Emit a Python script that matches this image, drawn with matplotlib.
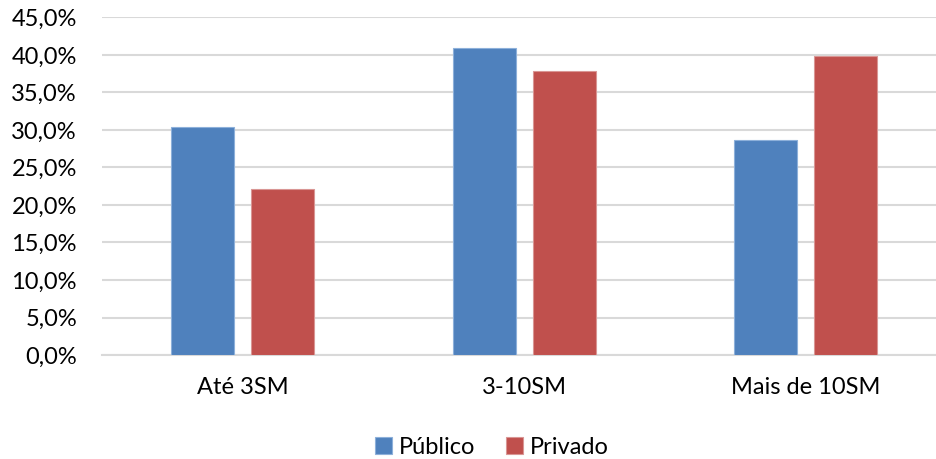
import numpy as np
import matplotlib.pyplot as plt
from matplotlib.ticker import FuncFormatter

# faixas de renda e percentuais por rede
categorias = ["Até 3SM", "3-10SM", "Mais de 10SM"]
publico = [30.4, 40.9, 28.6]
privado = [22.1, 37.9, 39.8]

plt.rcParams['font.family'] = ['Lato', 'DejaVu Sans']

fig = plt.figure(figsize=(9.36, 4.59), dpi=100)
ax = fig.add_axes([102 / 936, 1 - 355 / 459, 1 - 102 / 936, 337.5 / 459])

x = np.arange(len(categorias))
largura = 0.224
desloc = 0.142

ax.bar(x - desloc, publico, largura, color="#4F81BD", edgecolor="#8DB0DA",
       linewidth=0.8, label="Público", zorder=3)
ax.bar(x + desloc, privado, largura, color="#C0504D", edgecolor="#D99694",
       linewidth=0.8, label="Privado", zorder=3)

ax.set_xlim(-0.5, 2.464)
ax.set_ylim(0, 45)
ax.set_yticks(np.arange(0, 46, 5))
ax.yaxis.set_major_formatter(FuncFormatter(lambda v, p: f"{v:.1f}%".replace(".", ",")))
ax.set_xticks(x)
ax.set_xticklabels(categorias)

ax.grid(axis="y", color="#D9D9D9", linewidth=1.5, zorder=0)
for lado in ["top", "right", "left"]:
    ax.spines[lado].set_visible(False)
ax.spines["bottom"].set_color("#D9D9D9")
ax.spines["bottom"].set_linewidth(1.5)
ax.tick_params(axis="both", length=0, labelsize=17, colors="black")
ax.tick_params(axis="y", pad=18)
ax.tick_params(axis="x", pad=16)

fig.legend(loc="center", bbox_to_anchor=(492 / 936, 1 - 447 / 459), ncol=2,
           frameon=False, fontsize=17, handlelength=0.7, handleheight=0.7,
           handletextpad=0.3, columnspacing=1.3)

fig.savefig("out.png", dpi=100)
